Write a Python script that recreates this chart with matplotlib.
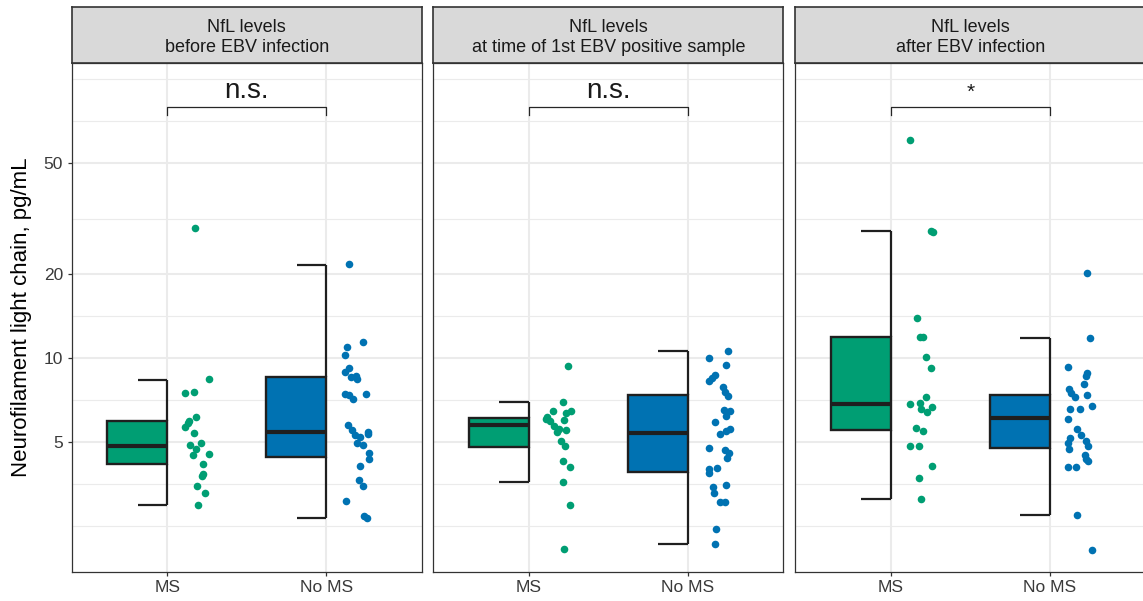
# plot.py
# NfL levels by MS status, three time points (half boxes + jittered points)

import numpy as np
import matplotlib.pyplot as plt

plt.rcParams['font.family'] = ['Liberation Sans', 'DejaVu Sans']

W, H = 1143, 601

PANEL_TITLES = [
    ["NfL levels", "before EBV infection"],
    ["NfL levels", "at time of 1st EBV positive sample"],
    ["NfL levels", "after EBV infection"],
]
GROUPS = ["MS", "No MS"]
SIGNIF = ["n.s.", "n.s.", "*"]
Y_LABEL = "Neurofilament light chain, pg/mL"

Y_BREAKS = [5, 10, 20, 50]
Y_MINOR = [2.5, 3.54, 7.07, 14.14, 31.62, 70.71, 100]
Y_LIM = (1.714, 114.4)
BRACKET_Y = 79.2
BRACKET_TIP = 74.3
SIGNIF_Y = 85.5

# values, one list per panel
ms_values = [
    [29.17, 8.39, 7.49, 7.53, 6.14, 5.95, 5.83, 5.64, 5.38, 4.88, 4.95, 4.71,
     4.48, 4.53, 4.16, 3.84, 3.78, 3.47, 3.28, 2.97],
    [9.38, 6.94, 6.44, 6.16, 6.04, 5.93, 6.46, 6.34, 6.00, 5.69, 5.58, 5.53,
     5.43, 5.03, 4.83, 4.28, 4.06, 3.60, 2.98, 2.07],
    [60.4, 28.53, 28.29, 13.88, 11.92, 11.92, 10.06, 9.21, 7.27, 6.82, 6.90,
     6.66, 6.56, 6.39, 5.60, 5.49, 4.85, 4.85, 4.10, 3.70, 3.12],
]
ms_jitter = [
    [0.173, 0.261, 0.110, 0.171, 0.184, 0.140, 0.129, 0.110, 0.171, 0.144,
     0.211, 0.182, 0.163, 0.264, 0.223, 0.226, 0.222, 0.186, 0.236, 0.196],
    [0.247, 0.213, 0.153, 0.117, 0.107, 0.134, 0.266, 0.234, 0.224, 0.161,
     0.190, 0.234, 0.180, 0.203, 0.230, 0.217, 0.259, 0.217, 0.259, 0.224],
    [0.124, 0.254, 0.267, 0.167, 0.186, 0.202, 0.220, 0.253, 0.222, 0.122,
     0.182, 0.257, 0.193, 0.226, 0.157, 0.205, 0.124, 0.180, 0.260, 0.176, 0.190],
]
noms_values = [
    [21.67, 11.44, 10.98, 10.25, 9.21, 8.91, 8.57, 8.62, 8.43, 7.43, 7.35, 7.15,
     7.41, 5.75, 5.51, 5.28, 5.22, 4.95, 4.86, 5.43, 5.36, 4.55, 4.33, 4.11,
     3.65, 3.48, 3.08, 2.72, 2.68],
    [10.57, 9.97, 9.44, 8.71, 8.48, 8.29, 7.87, 7.53, 7.33, 6.49, 6.46, 6.21,
     5.90, 5.57, 5.49, 5.36, 4.76, 4.68, 4.55, 4.39, 4.00, 4.02, 3.86, 3.45,
     3.27, 3.51, 3.05, 3.04, 2.44, 2.16],
    [20.12, 11.79, 9.28, 8.84, 8.60, 8.07, 7.72, 7.47, 7.23, 7.35, 6.73, 6.55,
     6.55, 6.06, 5.55, 5.30, 5.16, 5.04, 4.95, 4.84, 4.71, 4.49, 4.33, 4.29,
     4.06, 4.08, 2.74, 2.05],
]
noms_jitter = [
    [0.146, 0.228, 0.133, 0.117, 0.144, 0.115, 0.153, 0.190, 0.195, 0.115,
     0.143, 0.171, 0.249, 0.134, 0.163, 0.178, 0.213, 0.195, 0.232, 0.262,
     0.264, 0.266, 0.266, 0.212, 0.205, 0.228, 0.124, 0.240, 0.259],
    [0.255, 0.136, 0.239, 0.172, 0.149, 0.136, 0.218, 0.235, 0.251, 0.230,
     0.262, 0.241, 0.169, 0.268, 0.241, 0.205, 0.134, 0.232, 0.257, 0.245,
     0.136, 0.185, 0.132, 0.159, 0.166, 0.241, 0.205, 0.232, 0.174, 0.172],
    [0.232, 0.254, 0.116, 0.235, 0.230, 0.216, 0.119, 0.136, 0.157, 0.235,
     0.268, 0.188, 0.128, 0.117, 0.169, 0.193, 0.126, 0.228, 0.113, 0.241,
     0.119, 0.220, 0.228, 0.239, 0.111, 0.163, 0.172, 0.266],
]

# box stats: whisker low, q1, median, q3, whisker high
ms_box = [
    [2.97, 4.16, 4.85, 5.95, 8.36],
    [3.59, 4.80, 5.75, 6.11, 6.94],
    [3.12, 5.52, 6.84, 11.86, 28.5],
]
noms_box = [
    [2.68, 4.43, 5.44, 8.53, 21.6],
    [2.16, 3.91, 5.37, 7.37, 10.57],
    [2.74, 4.77, 6.08, 7.37, 11.76],
]

COLORS = ["#009E73", "#0072B2"]
BOX_W = 0.377
CAP_W = 0.185
LINE_C = "#1f1f1f"
GRID_C = "#EBEBEB"

# panel pixel geometry (left edges), shared top/bottom
PANEL_LEFT = [71.7, 433.3, 795.3]
PANEL_W = 350.0
PANEL_TOP = 62.7
PANEL_BOTTOM = 571.7
STRIP_TOP = 7.3


def px_axes(fig, left, top, right, bottom):
    return fig.add_axes([left / W, 1 - bottom / H, (right - left) / W, (bottom - top) / H])


def draw_group(ax, x, vals, jit, box, color):
    lo, q1, med, q3, hi = box
    ax.bar(x, q3 - q1, bottom=q1, width=-BOX_W, align='edge', color=color,
           edgecolor=LINE_C, linewidth=1.7, zorder=3)
    ax.hlines(med, x - BOX_W, x, color=LINE_C, linewidth=3.0, zorder=4)
    ax.vlines(x, lo, q1, color=LINE_C, linewidth=1.6, zorder=3)
    ax.vlines(x, q3, hi, color=LINE_C, linewidth=1.6, zorder=3)
    ax.hlines([lo, hi], x - CAP_W, x, color=LINE_C, linewidth=1.6, zorder=3)
    ax.scatter(x + np.array(jit), vals, s=30, color=color, linewidths=0, zorder=5)


def main():
    fig = plt.figure(figsize=(W / 100, H / 100), dpi=100)
    xs = np.arange(1, len(GROUPS) + 1)

    for i in range(3):
        left = PANEL_LEFT[i]
        ax = px_axes(fig, left, PANEL_TOP, left + PANEL_W, PANEL_BOTTOM)
        ax.set_yscale('log')
        ax.set_ylim(*Y_LIM)
        ax.set_xlim(0.4, 2.6)

        # grid
        for y in Y_MINOR:
            ax.axhline(y, color=GRID_C, linewidth=0.8, zorder=0)
        for y in Y_BREAKS:
            ax.axhline(y, color=GRID_C, linewidth=1.5, zorder=0)
        for x in xs:
            ax.axvline(x, color=GRID_C, linewidth=1.5, zorder=0)

        draw_group(ax, xs[0], ms_values[i], ms_jitter[i], ms_box[i], COLORS[0])
        draw_group(ax, xs[1], noms_values[i], noms_jitter[i], noms_box[i], COLORS[1])

        # significance bracket
        ax.plot([xs[0], xs[0], xs[1], xs[1]],
                [BRACKET_TIP, BRACKET_Y, BRACKET_Y, BRACKET_TIP],
                color="#262626", linewidth=0.9, zorder=4)
        fsize = 20 if SIGNIF[i] != "*" else 15
        ax.text(xs.mean(), SIGNIF_Y, SIGNIF[i], ha='center', va='baseline',
                fontsize=fsize, color="#1a1a1a")

        ax.set_xticks(xs)
        ax.set_xticklabels(GROUPS)
        ax.yaxis.set_minor_locator(plt.NullLocator())
        ax.set_yticks(Y_BREAKS)
        if i == 0:
            ax.set_yticklabels([str(b) for b in Y_BREAKS])
            ax.tick_params(axis='y', length=3.2, width=0.9, color="#333333",
                           labelsize=12.5, labelcolor="#3a3a3a", pad=3)
        else:
            ax.tick_params(axis='y', left=False, labelleft=False)
        ax.tick_params(axis='x', length=3.2, width=0.9, color="#333333",
                       labelsize=12.5, labelcolor="#3a3a3a", pad=3)
        for sp in ax.spines.values():
            sp.set_color("#333333")
            sp.set_linewidth(0.9)

        # facet strip
        st = px_axes(fig, left, STRIP_TOP, left + PANEL_W, PANEL_TOP)
        st.set_facecolor("#D9D9D9")
        st.set_xticks([])
        st.set_yticks([])
        for sp in st.spines.values():
            sp.set_color("#333333")
            sp.set_linewidth(1.2)
        cx = (left + PANEL_W / 2) / W
        fig.text(cx, 1 - 32.3 / H, PANEL_TITLES[i][0], ha='center', va='baseline',
                 fontsize=13, color="#1a1a1a")
        fig.text(cx, 1 - 51.7 / H, PANEL_TITLES[i][1], ha='center', va='baseline',
                 fontsize=13, color="#1a1a1a")

    fig.text(22 / W, 1 - 317 / H, Y_LABEL, rotation=90, ha='center', va='center',
             fontsize=16, color="#000000")

    fig.savefig("out.png", dpi=100)
    plt.close(fig)


if __name__ == "__main__":
    main()
